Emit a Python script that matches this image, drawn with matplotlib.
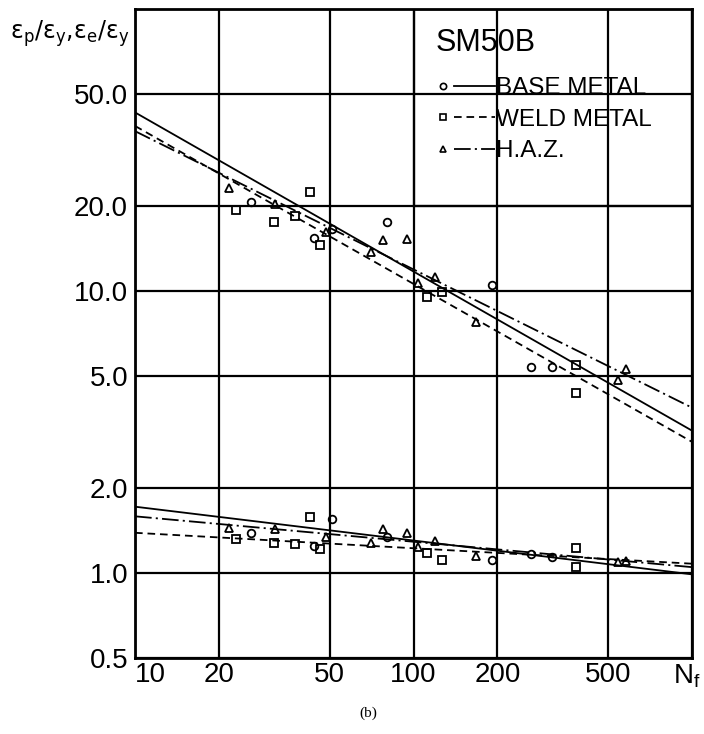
import matplotlib
matplotlib.use("Agg")
import matplotlib.pyplot as plt
from matplotlib.lines import Line2D
from matplotlib.patches import Rectangle
from matplotlib.legend_handler import HandlerBase
from matplotlib.ticker import NullLocator
import numpy as np

plt.rcParams["lines.scale_dashes"] = False
plt.rcParams["mathtext.fontset"] = "dejavusans"
plt.rcParams["mathtext.default"] = "regular"

# ---- specimen data: fatigue life Nf, plastic and elastic strain ratios ----
nf_base = [26, 44, 51, 80, 192, 265, 315]
ep_base = [20.7, 15.4, 16.6, 17.6, 10.5, 5.38, 5.38]
ee_base = [1.39, 1.25, 1.56, 1.34, 1.11, 1.167, 1.144]

nf_weld = [23.0, 31.5, 37.6, 42.6, 46, 112, 127, 383, 383]
ep_weld = [19.4, 17.6, 18.5, 22.4, 14.6, 9.5, 9.9, 5.47, 4.35]
ee_weld = [1.32, 1.278, 1.27, 1.58, 1.22, 1.177, 1.11, 1.224, 1.053]

nf_haz = [21.7, 31.8, 48.4, 70.5, 77.9, 94.4, 103.4, 119, 168, 543, 578]
ep_haz = [23.2, 20.3, 16.2, 13.8, 15.2, 15.3, 10.7, 11.2, 7.77, 4.84, 5.30]
ee_haz = [1.446, 1.438, 1.343, 1.284, 1.434, 1.39, 1.242, 1.295, 1.15, 1.095, 1.104]

# fitted power-law lines, value at Nf = 10 and Nf = 1000
fit_nf = [10, 1000]
fit_ep_base = [43.0, 3.2]
fit_ep_weld = [38.5, 2.92]
fit_ep_haz = [36.9, 3.86]
fit_ee_base = [1.72, 0.99]
fit_ee_weld = [1.39, 1.08]
fit_ee_haz = [1.59, 1.05]

x_ticks = [10, 20, 50, 100, 200, 500, 1000]
x_labels = ["10", "20", "50", "100", "200", "500", ""]
y_ticks = [0.5, 1, 2, 5, 10, 20, 50]
y_labels = ["0.5", "1.0", "2.0", "5.0", "10.0", "20.0", "50.0"]

TICK_FONT = ["Liberation Sans Narrow", "Liberation Sans", "DejaVu Sans"]
TEXT_FONT = ["Liberation Sans", "DejaVu Sans"]

DASHED = (0, (5.5, 3.5))
DASHDOT = (0, (12, 3, 1.5, 3))
styles = {
    "base": dict(marker="o", ls="-"),
    "weld": dict(marker="s", ls=DASHED),
    "haz": dict(marker="^", ls=DASHDOT),
}

fig = plt.figure(figsize=(7.04, 7.34), dpi=100)
ax = fig.add_axes([0.1918, 0.1035, 0.7912, 0.8842])
ax.set_xscale("log")
ax.set_yscale("log")
ax.set_xlim(10, 1000)
ax.set_ylim(0.5, 100)
ax.xaxis.set_minor_locator(NullLocator())
ax.yaxis.set_minor_locator(NullLocator())
ax.set_xticks(x_ticks)
ax.set_xticklabels(x_labels, fontfamily=TICK_FONT, fontsize=20)
ax.set_yticks(y_ticks)
ax.set_yticklabels(y_labels, fontfamily=TICK_FONT, fontsize=20)
ax.get_xticklabels()[0].set_horizontalalignment("left")
ax.tick_params(axis="both", length=0)
ax.tick_params(axis="x", pad=3)
ax.tick_params(axis="y", pad=5)
ax.grid(True, color="black", lw=1.6)
for sp in ax.spines.values():
    sp.set_linewidth(2.0)

# axis name for the life axis, set at the right end of the scale
ax.annotate(r"N$_{f}$", xy=(1000, 0), xycoords=("data", "axes fraction"),
            xytext=(6, -3), textcoords="offset points", ha="right", va="top",
            fontfamily=TICK_FONT, fontsize=20)

# boxed legend area covering the upper right grid cells
ax.add_patch(Rectangle((100, 20), 900, 80, transform=ax.transData,
                       facecolor="white", edgecolor="black", lw=1.6, zorder=1.5))

mk = dict(ms=5.5, mfc="none", mec="black", mew=1.3, color="black")
groups = [
    ("base", nf_base, ep_base, ee_base, fit_ep_base, fit_ee_base),
    ("weld", nf_weld, ep_weld, ee_weld, fit_ep_weld, fit_ee_weld),
    ("haz", nf_haz, ep_haz, ee_haz, fit_ep_haz, fit_ee_haz),
]
for key, nf, ep, ee, fep, fee in groups:
    st = styles[key]
    ax.plot(fit_nf, fep, color="black", lw=1.3, ls=st["ls"], zorder=2)
    ax.plot(fit_nf, fee, color="black", lw=1.3, ls=st["ls"], zorder=2)
    ax.plot(nf, ep, ls="none", marker=st["marker"], zorder=3, **mk)
    ax.plot(nf, ee, ls="none", marker=st["marker"], zorder=3, **mk)


class MarkerThenLine(HandlerBase):
    """Legend entry drawn as a marker followed by a short line sample."""

    def create_artists(self, legend, orig_handle, xdescent, ydescent,
                       width, height, fontsize, trans):
        y = height / 2 - ydescent
        x0 = -xdescent
        mark = Line2D([x0 + 0.1 * width], [y])
        mark.update_from(orig_handle)
        mark.set_linestyle("none")
        seg = Line2D([x0 + 0.3 * width, x0 + width], [y, y])
        seg.update_from(orig_handle)
        seg.set_marker("None")
        for a in (mark, seg):
            a.set_transform(trans)
        return [mark, seg]


handles = [
    Line2D([], [], color="black", lw=1.3, ls=styles[k]["ls"],
           marker=styles[k]["marker"], ms=4.5, mfc="none", mec="black", mew=1.2)
    for k in ("base", "weld", "haz")
]
ax.text(0.539, 0.948, "SM50B", transform=ax.transAxes, ha="left", va="center",
        family=TEXT_FONT, fontsize=22, zorder=5)
leg = ax.legend(handles, ["BASE METAL", "WELD METAL", "H.A.Z."],
                loc="upper left", bbox_to_anchor=(0.542, 0.895),
                frameon=False, borderpad=0, borderaxespad=0,
                handler_map={Line2D: MarkerThenLine()},
                prop={"family": TEXT_FONT, "size": 17.5},
                handlelength=2.4, handletextpad=0.05, labelspacing=0.39)
leg.set_zorder(5)

fig.text(10 / 704, 1 - 34 / 734,
         r"$\varepsilon_p/\varepsilon_y{,}\varepsilon_e/\varepsilon_y$",
         fontsize=17, ha="left", va="center")
fig.text(368 / 704, 1 - 713 / 734, "(b)", family=["Liberation Serif", "DejaVu Serif"],
         fontsize=11, ha="center", va="center")

fig.savefig("out.png", dpi=100)
